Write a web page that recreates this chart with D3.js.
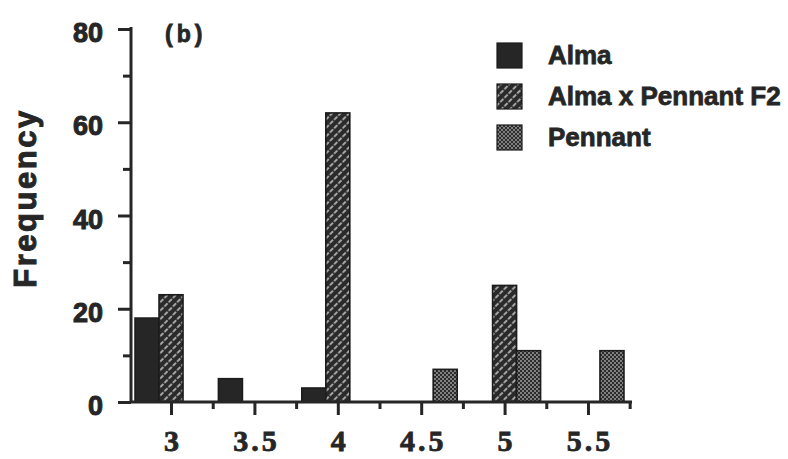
<!DOCTYPE html>
<html>
<head>
<meta charset="utf-8">
<script src="https://cdn.jsdelivr.net/npm/d3@7/dist/d3.min.js"></script>
<style>
  html, body { margin: 0; padding: 0; background: #fff; }
  svg { display: block; }
</style>
</head>
<body>
<svg id="chart" width="788" height="459"></svg>
<script>
// Frequency of plants per score class for the two parents and their F2
const bins = [3, 3.5, 4, 4.5, 5, 5.5];
const seriesNames = ["Alma", "Alma x Pennant F2", "Pennant"];
const alma = [18, 5, 3, 0, 0, 0];
const f2 = [23, 0, 62, 0, 25, 0];
const pennant = [0, 0, 0, 7, 11, 11];
const yTicks = [0, 20, 40, 60, 80];
const yMinorTicks = [10, 30, 50, 70];
const xTickLabels = ["3", "3.5", "4", "4.5", "5", "5.5"];
const xMinorTicks = [3.25, 3.75, 4.25, 4.75, 5.25, 5.75];

const svg = d3.select("#chart");
const ink = "#262626";

// fill patterns
const defs = svg.append("defs");
const hatch = defs.append("pattern")
  .attr("id", "hatch").attr("patternUnits", "userSpaceOnUse")
  .attr("width", 6).attr("height", 6)
  .attr("patternTransform", "rotate(45)");
hatch.append("rect").attr("width", 6).attr("height", 6).attr("fill", "#2a2a2a");
hatch.append("line").attr("x1", 3).attr("x2", 3).attr("y1", 0).attr("y2", 6)
  .attr("stroke", "#d8d8d8").attr("stroke-width", 1.4).attr("stroke-dasharray", "4.5 1.5");

const dots = defs.append("pattern")
  .attr("id", "dots").attr("patternUnits", "userSpaceOnUse")
  .attr("width", 4).attr("height", 4);
dots.append("rect").attr("width", 4).attr("height", 4).attr("fill", "#2c2c2c");
dots.append("circle").attr("cx", 1).attr("cy", 1).attr("r", 0.9).attr("fill", "#a8a8a8");
dots.append("circle").attr("cx", 3).attr("cy", 3).attr("r", 0.9).attr("fill", "#a8a8a8");

const fills = { "Alma": ink, "Alma x Pennant F2": "url(#hatch)", "Pennant": "url(#dots)" };

// scales
const x = d3.scaleLinear().domain([2.76, 5.764]).range([131, 632]);
const y = d3.scaleLinear().domain([0, 80]).range([402, 29]);
const slot = d3.scaleBand().domain(seriesNames).range([-36, 36]);

// bars
const valuesBySeries = { "Alma": alma, "Alma x Pennant F2": f2, "Pennant": pennant };
const barData = [];
seriesNames.forEach(s => {
  bins.forEach((b, i) => {
    const v = valuesBySeries[s][i];
    if (v > 0) barData.push({ series: s, bin: b, value: v });
  });
});
svg.append("g").selectAll("rect").data(barData).join("rect")
  .attr("x", d => x(d.bin) + slot(d.series))
  .attr("y", d => y(d.value))
  .attr("width", slot.bandwidth())
  .attr("height", d => y(0) - y(d.value))
  .attr("fill", d => fills[d.series])
  .attr("stroke", "#1c1c1c").attr("stroke-width", 1.6);

// y axis
const yAxis = svg.append("g").attr("transform", `translate(${x(2.76)},0)`)
  .call(d3.axisLeft(y).tickValues(yTicks).tickSize(13).tickPadding(15).tickFormat(d3.format("d")));
yAxis.select(".domain").attr("d", `M0,${y(80) - 2}V${y(0)}`);
svg.append("g").attr("transform", `translate(${x(2.76)},0)`)
  .call(d3.axisLeft(y).tickValues(yMinorTicks).tickSize(8).tickFormat(""))
  .select(".domain").remove();

// x axis
const xAxis = svg.append("g").attr("transform", `translate(0,${y(0)})`)
  .call(d3.axisBottom(x).tickValues(bins).tickSize(13).tickPadding(12)
    .tickFormat((d, i) => xTickLabels[i]));
xAxis.select(".domain").attr("d", `M${x(2.76)},0H${x(5.764)}`);
svg.append("g").attr("transform", `translate(0,${y(0)})`)
  .call(d3.axisBottom(x).tickValues(xMinorTicks).tickSize(7).tickFormat(""))
  .select(".domain").remove();

svg.selectAll(".domain").attr("stroke", ink).attr("stroke-width", 3);
svg.selectAll(".tick line").attr("stroke", ink).attr("stroke-width", 3);

yAxis.selectAll(".tick text")
  .attr("font-family", "Liberation Sans, Arial, sans-serif")
  .attr("font-weight", "bold").attr("font-size", 27).attr("fill", ink)
  .attr("stroke", ink).attr("stroke-width", 1)
  .attr("dy", "0.47em");
xAxis.selectAll(".tick text")
  .attr("font-family", "Liberation Serif, Times New Roman, serif")
  .attr("font-weight", "bold").attr("font-size", 30).attr("fill", ink)
  .attr("stroke", ink).attr("stroke-width", 0.8)
  .attr("letter-spacing", 3).attr("dx", 1.5).attr("dy", "0.79em");

// axis title and panel label
svg.append("text")
  .attr("transform", "translate(36,198) rotate(-90)")
  .attr("text-anchor", "middle")
  .attr("font-family", "Liberation Sans, Arial, sans-serif")
  .attr("font-weight", "bold").attr("font-size", 31).attr("letter-spacing", 2.5)
  .attr("stroke", ink).attr("stroke-width", 1)
  .attr("fill", ink).text("Frequency");

svg.append("text").attr("x", 165).attr("y", 42)
  .attr("font-family", "Liberation Sans, Arial, sans-serif")
  .attr("font-weight", "bold").attr("font-size", 23).attr("letter-spacing", 4)
  .attr("stroke", ink).attr("stroke-width", 0.8)
  .attr("fill", ink).text("(b)");

// legend
const legend = svg.append("g").selectAll("g").data(seriesNames).join("g")
  .attr("transform", (d, i) => `translate(497,${43 + i * 41})`);
legend.append("rect")
  .attr("width", 25).attr("height", 25)
  .attr("fill", d => fills[d]).attr("stroke", "#1c1c1c").attr("stroke-width", 1.2);
legend.append("text").attr("x", 51).attr("y", 21)
  .attr("font-family", "Liberation Sans, Arial, sans-serif")
  .attr("font-weight", "bold").attr("font-size", 26)
  .attr("stroke", ink).attr("stroke-width", 0.8)
  .attr("fill", ink).text(d => d);
</script>
</body>
</html>
